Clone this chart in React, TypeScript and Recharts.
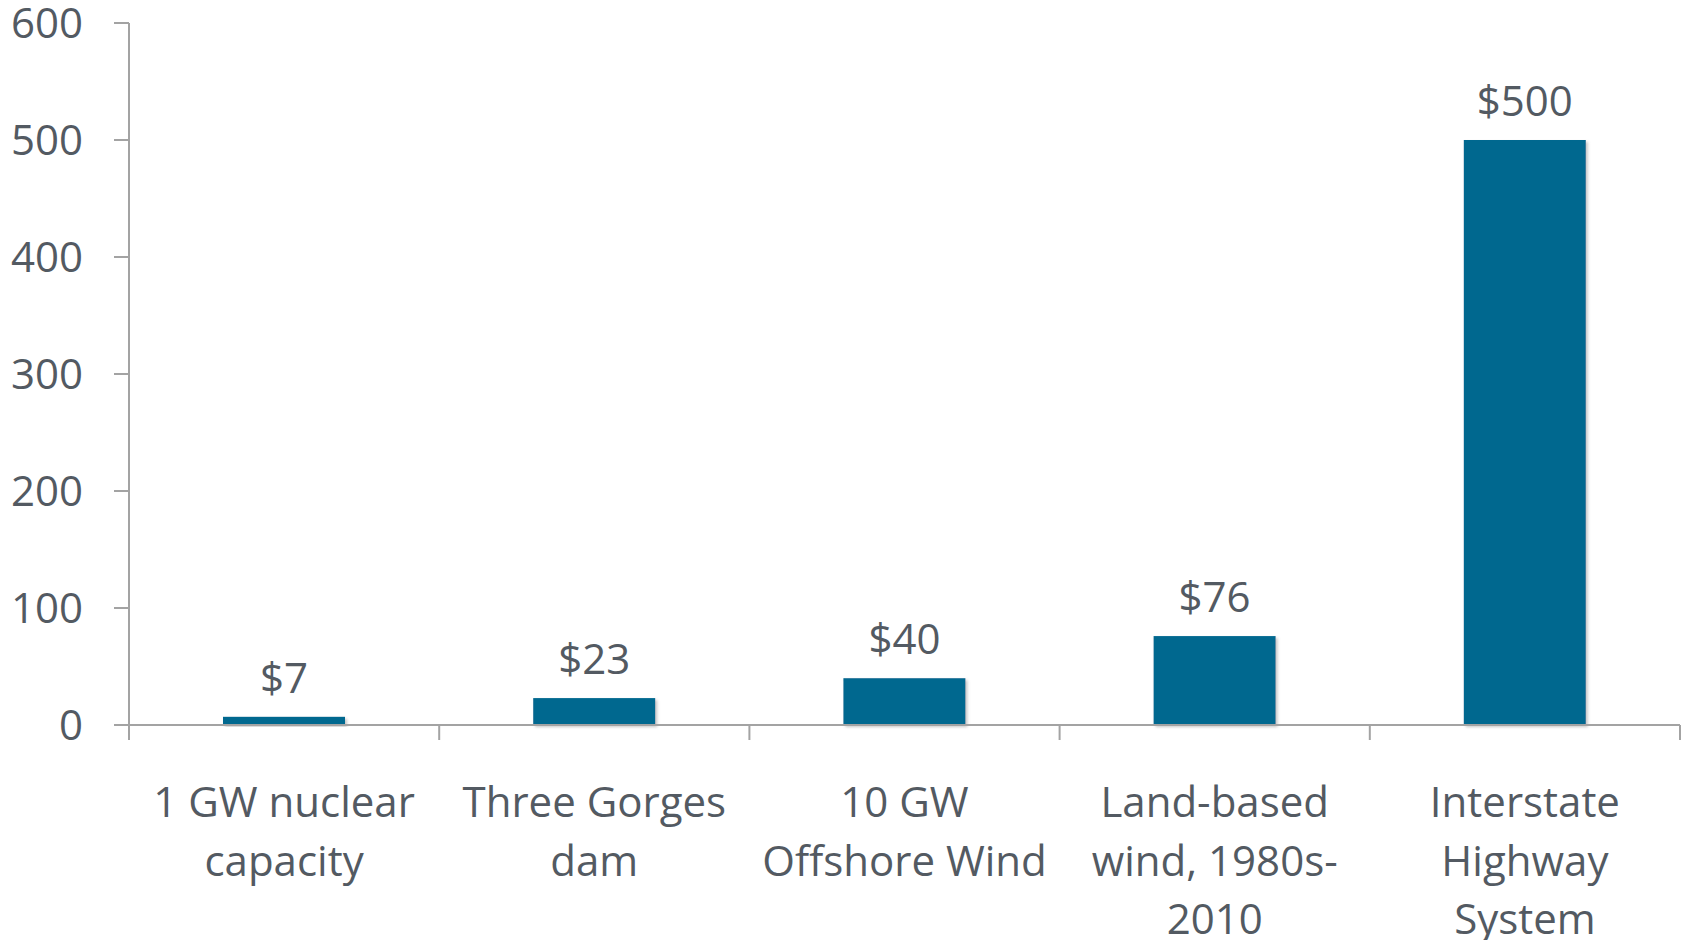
import React from "react";
import { BarChart, Bar, XAxis, YAxis, LabelList } from "recharts";

// ---- data -------------------------------------------------------------------

const categories = [
  "1 GW nuclear\ncapacity",
  "Three Gorges\ndam",
  "10 GW\nOffshore Wind",
  "Land-based\nwind, 1980s-\n2010",
  "Interstate\nHighway\nSystem",
];
const costs = [7, 23, 40, 76, 500];
const yTicks = [0, 100, 200, 300, 400, 500, 600];

const data = categories.map((name, i) => ({ name, value: costs[i] }));

// ---- style ------------------------------------------------------------------

const W = 1685;
const H = 940;
const M = { top: 23, right: 5, left: 0, bottom: 0 };
const Y_W = 129;
const X_H = 215;
const FONT = "'Open Sans', 'Noto Sans', sans-serif";
const TEXT = "#535a62";
const AXIS = "#a3a3a3";
const BAR = "#03678f";
const FS = 42;

const bandW = (W - M.left - M.right - Y_W) / categories.length;

function CatTick({ x, y, payload, index }: any) {
  const lines = String(payload.value).split("\n");
  const last = index === categories.length - 1;
  return (
    <g>
      <line x1={x - bandW / 2} x2={x - bandW / 2} y1={y} y2={y + 15} stroke={AXIS} strokeWidth={2} />
      {last && (
        <line x1={x + bandW / 2} x2={x + bandW / 2} y1={y} y2={y + 15} stroke={AXIS} strokeWidth={2} />
      )}
      <text textAnchor="middle" fill={TEXT} fontSize={FS} fontFamily={FONT}>
        {lines.map((l, i) => (
          <tspan key={i} x={x} y={y + 92 + i * 58.5}>
            {l}
          </tspan>
        ))}
      </text>
    </g>
  );
}

function ShadowBar(props: any) {
  const { x, y, width, height } = props;
  if (!height || height <= 0) return null;
  return <rect x={x} y={y} width={width} height={height} fill={BAR} filter="url(#barShadow)" />;
}

export default function App() {
  return (
    <div style={{ position: "absolute", left: 0, top: 0, width: W, height: H, background: "#fff" }}>
      <BarChart width={W} height={H} data={data} margin={M} barSize={122}>
        <defs>
          <filter id="barShadow" x="-10%" y="-10%" width="130%" height="130%">
            <feDropShadow dx={2} dy={2} stdDeviation={1.5} floodColor="#808080" floodOpacity={0.45} />
          </filter>
        </defs>
        <XAxis
          dataKey="name"
          height={X_H}
          interval={0}
          tickLine={false}
          tickSize={0}
          tickMargin={0}
          axisLine={{ stroke: AXIS, strokeWidth: 2 }}
          tick={<CatTick />}
        />
        <YAxis
          width={Y_W}
          domain={[0, 600]}
          ticks={yTicks}
          interval={0}
          tickSize={15}
          tickMargin={31}
          axisLine={{ stroke: AXIS, strokeWidth: 2 }}
          tickLine={{ stroke: AXIS, strokeWidth: 2 }}
          tick={{ fill: TEXT, fontSize: FS, fontFamily: FONT }}
        />
        <Bar dataKey="value" shape={<ShadowBar />} isAnimationActive={false}>
          <LabelList
            dataKey="value"
            position="top"
            offset={24}
            formatter={(v: any) => `$${v}`}
            style={{ fill: TEXT, fontSize: FS, fontFamily: FONT }}
          />
        </Bar>
      </BarChart>
    </div>
  );
}
